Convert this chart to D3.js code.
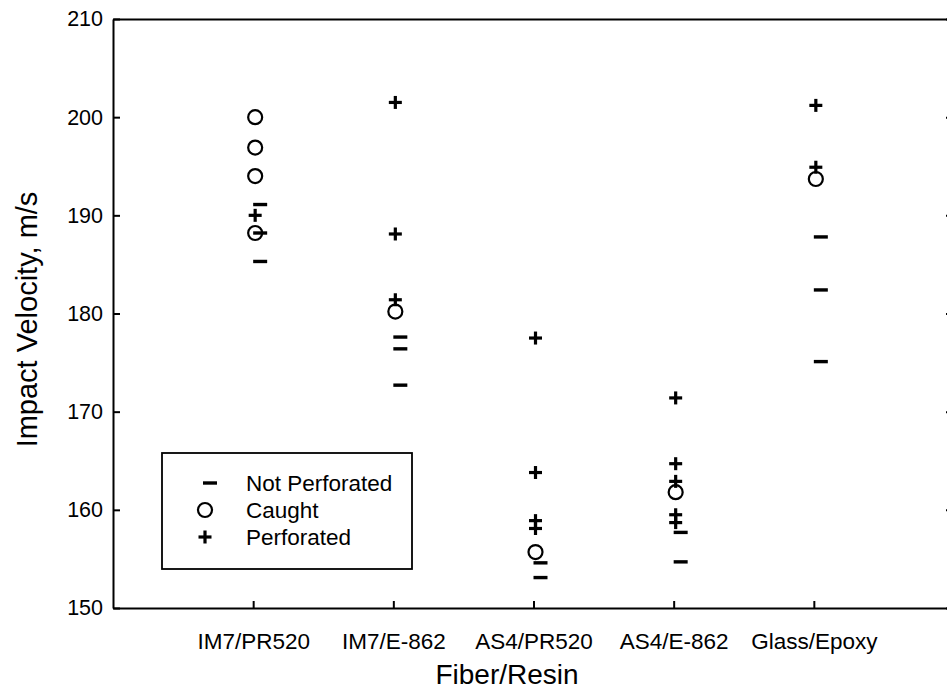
<!DOCTYPE html>
<html>
<head>
<meta charset="utf-8">
<script src="https://cdn.jsdelivr.net/npm/d3@7"></script>
<style>
  html, body { margin: 0; padding: 0; background: #fff; }
  svg { display: block; }
  text { font-family: "Liberation Sans", Arial, Helvetica, sans-serif; fill: #000; }
</style>
</head>
<body>
<svg id="chart" width="947" height="694"></svg>
<script>
// ---- data ----
const categories = ["IM7/PR520", "IM7/E-862", "AS4/PR520", "AS4/E-862", "Glass/Epoxy"];
const yTicks = [150, 160, 170, 180, 190, 200, 210];

const notPerforated = [
  ["IM7/PR520", 191.1], ["IM7/PR520", 188.2], ["IM7/PR520", 185.3],
  ["IM7/E-862", 177.6], ["IM7/E-862", 176.4], ["IM7/E-862", 172.7],
  ["AS4/PR520", 154.6], ["AS4/PR520", 153.1],
  ["AS4/E-862", 157.7], ["AS4/E-862", 154.7],
  ["Glass/Epoxy", 187.8], ["Glass/Epoxy", 182.4], ["Glass/Epoxy", 175.1]
];
const caught = [
  ["IM7/PR520", 200.0], ["IM7/PR520", 196.9], ["IM7/PR520", 194.0], ["IM7/PR520", 188.2],
  ["IM7/E-862", 180.2],
  ["AS4/PR520", 155.7],
  ["AS4/E-862", 161.8],
  ["Glass/Epoxy", 193.7]
];
const perforated = [
  ["IM7/PR520", 190.0],
  ["IM7/E-862", 201.5], ["IM7/E-862", 188.1], ["IM7/E-862", 181.4],
  ["AS4/PR520", 177.5], ["AS4/PR520", 163.8], ["AS4/PR520", 158.9], ["AS4/PR520", 158.1],
  ["AS4/E-862", 171.4], ["AS4/E-862", 164.7], ["AS4/E-862", 162.9], ["AS4/E-862", 159.5], ["AS4/E-862", 158.7],
  ["Glass/Epoxy", 201.2], ["Glass/Epoxy", 194.9]
];
const legendLabels = ["Not Perforated", "Caught", "Perforated"];

// ---- layout ----
const svg = d3.select("#chart");
const mLeft = 113, mRight = 954, mTop = 19, mBottom = 608;

const x = d3.scaleLinear().domain([0, categories.length + 1]).range([mLeft, mRight]);
const xc = c => x(categories.indexOf(c) + 1);
const y = d3.scaleLinear().domain([150, 210]).range([mBottom, mTop]);

const axisW = 2;
const g = svg.append("g");

// left axis with inward ticks
const yAxisL = d3.axisLeft(y).tickValues(yTicks).tickSizeInner(-7).tickSizeOuter(0).tickFormat(d3.format("d"));
const gl = g.append("g").attr("transform", `translate(${mLeft},0)`).call(yAxisL);
gl.select(".domain").attr("stroke-width", axisW);
gl.selectAll(".tick line").attr("stroke-width", axisW);
gl.selectAll(".tick text").attr("font-size", 21.5).attr("x", -10);

// right axis (mostly off canvas) with inward ticks
const yAxisR = d3.axisRight(y).tickValues(yTicks).tickSizeInner(-8).tickSizeOuter(0).tickFormat("");
const gr = g.append("g").attr("transform", `translate(${mRight},0)`).call(yAxisR);
gr.select(".domain").attr("stroke-width", axisW);
gr.selectAll(".tick line").attr("stroke-width", axisW);

// bottom axis with inward ticks
const xAxisB = d3.axisBottom(x).tickValues(d3.range(1, categories.length + 1)).tickSizeInner(-7).tickSizeOuter(0)
  .tickFormat(i => categories[i - 1]);
const gb = g.append("g").attr("transform", `translate(0,${mBottom})`).call(xAxisB);
gb.select(".domain").attr("stroke-width", axisW);
gb.selectAll(".tick line").attr("stroke-width", axisW);
gb.selectAll(".tick text").attr("font-size", 22.5).attr("y", 25);

// top border line
const xAxisT = d3.axisTop(x).tickValues([]).tickSizeOuter(0);
const gt = g.append("g").attr("transform", `translate(0,${mTop})`).call(xAxisT);
gt.select(".domain").attr("stroke-width", axisW);

// axis titles
svg.append("text")
  .attr("transform", `translate(37,${(mTop + mBottom) / 2 + 6}) rotate(-90)`)
  .attr("text-anchor", "middle")
  .attr("font-size", 29)
  .text("Impact Velocity, m/s");
svg.append("text")
  .attr("x", 507).attr("y", 684)
  .attr("text-anchor", "middle")
  .attr("font-size", 28)
  .text("Fiber/Resin");

// ---- marker painters ----
function drawDash(sel, cx, cy) {
  sel.append("line").attr("x1", cx - 2).attr("x2", cx + 12).attr("y1", cy).attr("y2", cy)
    .attr("stroke", "#000").attr("stroke-width", 3.4);
}
function drawCircle(sel, cx, cy) {
  sel.append("circle").attr("cx", cx).attr("cy", cy).attr("r", 7)
    .attr("fill", "none").attr("stroke", "#000").attr("stroke-width", 2.2);
}
function drawPlus(sel, cx, cy) {
  sel.append("line").attr("x1", cx - 6.5).attr("x2", cx + 6.5).attr("y1", cy).attr("y2", cy)
    .attr("stroke", "#000").attr("stroke-width", 3.2);
  sel.append("line").attr("x1", cx).attr("x2", cx).attr("y1", cy - 6.5).attr("y2", cy + 6.5)
    .attr("stroke", "#000").attr("stroke-width", 3.2);
}

const marks = svg.append("g");
caught.forEach(([c, v]) => drawCircle(marks, xc(c) + 2, y(v)));
notPerforated.forEach(([c, v]) => drawDash(marks, xc(c) + 2, y(v)));
perforated.forEach(([c, v]) => drawPlus(marks, xc(c) + 2, y(v)));

// ---- legend ----
const lg = svg.append("g");
lg.append("rect").attr("x", 162).attr("y", 453).attr("width", 250).attr("height", 116)
  .attr("fill", "#fff").attr("stroke", "#000").attr("stroke-width", 1.8);
const painters = [drawDash, drawCircle, drawPlus];
legendLabels.forEach((lab, i) => {
  const cy = 483 + i * 27;
  painters[i](lg, 205, cy);
  lg.append("text").attr("x", 246).attr("y", cy + 8).attr("font-size", 22.5).text(lab);
});
</script>
</body>
</html>
